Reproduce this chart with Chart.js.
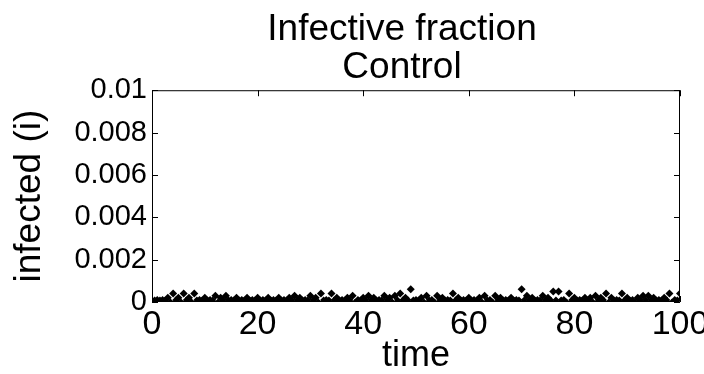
<!DOCTYPE html>
<html>
<head>
<meta charset="utf-8">
<script src="https://cdn.jsdelivr.net/npm/chart.js@4"></script>
<style>
  html, body { margin: 0; padding: 0; background: #fff; }
  #wrap { width: 704px; height: 374px; }
</style>
</head>
<body>
<div id="wrap"><canvas id="infective"></canvas></div>
<script>
// time steps and infected fraction
var times = [1, 2, 3, 4, 5, 6, 7, 8, 9, 10,
  11, 12, 13, 14, 15, 16, 17, 18, 19, 20,
  21, 22, 23, 24, 25, 26, 27, 28, 29, 30,
  31, 32, 33, 34, 35, 36, 37, 38, 39, 40,
  41, 42, 43, 44, 45, 46, 47, 48, 49, 50,
  51, 52, 53, 54, 55, 56, 57, 58, 59, 60,
  61, 62, 63, 64, 65, 66, 67, 68, 69, 70,
  71, 72, 73, 74, 75, 76, 77, 78, 79, 80,
  81, 82, 83, 84, 85, 86, 87, 88, 89, 90,
  91, 92, 93, 94, 95, 96, 97, 98, 99, 100];

var infected = [0.0001, 0.0001, 0.0002, 0.0004, 0.0002, 0.0004, 0.0002, 0.0004, 0.0001, 0.0002,
  0.0001, 0.0003, 0.0002, 0.0003, 0.0001, 0.0002, 0.0001, 0.0002, 0.0001, 0.0002,
  0.0001, 0.0002, 0.0001, 0.0002, 0.0001, 0.0002, 0.0003, 0.0002, 0.0001, 0.0003,
  0.0002, 0.0004, 0.0001, 0.0004, 0.0002, 0.0001, 0.0002, 0.0003, 0.0001, 0.0002,
  0.0003, 0.0002, 0.0001, 0.0003, 0.0002, 0.0003, 0.0004, 0.0002, 0.0006, 0.0001,
  0.0002, 0.0003, 0.0001, 0.0003, 0.0002, 0.0001, 0.0004, 0.0002, 0.0001, 0.0002,
  0.0001, 0.0002, 0.0003, 0.0001, 0.0003, 0.0002, 0.0001, 0.0002, 0.0001, 0.0006,
  0.0003, 0.0002, 0.0001, 0.0003, 0.0002, 0.0005, 0.0005, 0.0001, 0.0004, 0.0002,
  0.0001, 0.0002, 0.0002, 0.0003, 0.0002, 0.0004, 0.0002, 0.0001, 0.0004, 0.0002,
  0.0001, 0.0002, 0.0003, 0.0003, 0.0002, 0.0001, 0.0002, 0.0004, 0.0001, 0.0004];

// second trace sitting on the floor of the plot
var timesLow = [0.5, 1.5, 2.5, 3.5, 4.5, 5.5, 6.5, 7.5, 8.5, 9.5,
  10.5, 11.5, 12.5, 13.5, 14.5, 15.5, 16.5, 17.5, 18.5, 19.5,
  20.5, 21.5, 22.5, 23.5, 24.5, 25.5, 26.5, 27.5, 28.5, 29.5,
  30.5, 31.5, 32.5, 33.5, 34.5, 35.5, 36.5, 37.5, 38.5, 39.5,
  40.5, 41.5, 42.5, 43.5, 44.5, 45.5, 46.5, 47.5, 48.5, 49.5,
  50.5, 51.5, 52.5, 53.5, 54.5, 55.5, 56.5, 57.5, 58.5, 59.5,
  60.5, 61.5, 62.5, 63.5, 64.5, 65.5, 66.5, 67.5, 68.5, 69.5,
  70.5, 71.5, 72.5, 73.5, 74.5, 75.5, 76.5, 77.5, 78.5, 79.5,
  80.5, 81.5, 82.5, 83.5, 84.5, 85.5, 86.5, 87.5, 88.5, 89.5,
  90.5, 91.5, 92.5, 93.5, 94.5, 95.5, 96.5, 97.5, 98.5, 99.5];

var infectedLow = [0.0001, 0.0001, 0.0001, 0.0, 0.0001, 0.0, 0.0001, 0.0, 0.0001, 0.0001,
  0.0001, 0.0001, 0.0, 0.0001, 0.0001, 0.0001, 0.0001, 0.0001, 0.0001, 0.0001,
  0.0001, 0.0001, 0.0001, 0.0001, 0.0001, 0.0001, 0.0001, 0.0001, 0.0001, 0.0001,
  0.0001, 0.0, 0.0001, 0.0001, 0.0001, 0.0001, 0.0001, 0.0001, 0.0, 0.0001,
  0.0001, 0.0001, 0.0001, 0.0001, 0.0001, 0.0, 0.0001, 0.0001, 0.0001, 0.0001,
  0.0001, 0.0, 0.0001, 0.0, 0.0001, 0.0001, 0.0001, 0.0001, 0.0001, 0.0001,
  0.0001, 0.0001, 0.0, 0.0001, 0.0, 0.0001, 0.0001, 0.0001, 0.0001, 0.0001,
  0.0001, 0.0001, 0.0001, 0.0001, 0.0001, 0.0001, 0.0001, 0.0001, 0.0, 0.0001,
  0.0001, 0.0001, 0.0001, 0.0, 0.0001, 0.0001, 0.0, 0.0001, 0.0001, 0.0001,
  0.0001, 0.0, 0.0001, 0.0001, 0.0001, 0.0001, 0.0001, 0.0001, 0.0, 0.0001];

var xTicks = [0, 20, 40, 60, 80, 100];
var yTicks = [0, 0.002, 0.004, 0.006, 0.008, 0.01];
var yTickLabels = ["0", "0.002", "0.004", "0.006", "0.008", "0.01"];

function toPoints(xs, ys) {
  var out = [];
  for (var i = 0; i < xs.length; i++) {
    out.push({ x: xs[i], y: ys[i] });
  }
  return out;
}

// matlab style box with inward ticks
var boxPlugin = {
  id: "box",
  afterLayout: function (chart) {
    // title in the reference sits a little left of the axes centre
    chart.titleBlock.left = 100;
    chart.titleBlock.right = 704;
  },
  afterDraw: function (chart) {
    var ctx = chart.ctx;
    var a = chart.chartArea;
    var xs = chart.scales.x;
    var ys = chart.scales.y;
    var len = 6;
    ctx.save();
    ctx.strokeStyle = "#000";
    ctx.lineWidth = 1;
    ctx.beginPath();
    ctx.rect(a.left + 0.5, a.top + 0.5, a.right - a.left - 1, a.bottom - a.top - 1);
    xTicks.forEach(function (v) {
      var px = Math.round(xs.getPixelForValue(v)) + 0.5;
      ctx.moveTo(px, a.bottom);
      ctx.lineTo(px, a.bottom - len);
      ctx.moveTo(px, a.top);
      ctx.lineTo(px, a.top + len);
    });
    yTicks.forEach(function (v) {
      var py = Math.round(ys.getPixelForValue(v)) + 0.5;
      ctx.moveTo(a.left, py);
      ctx.lineTo(a.left + len, py);
      ctx.moveTo(a.right, py);
      ctx.lineTo(a.right - len, py);
    });
    ctx.stroke();
    ctx.restore();
  },
};

var fontFamily = "'Liberation Sans', Arial, sans-serif";

var config = {
  type: "scatter",
  data: {
    datasets: [
      {
        label: "infected",
        data: toPoints(times, infected),
        pointStyle: "rectRot",
        pointRadius: 4,
        backgroundColor: "#000",
        borderColor: "#000",
        borderWidth: 0,
      },
      {
        label: "infected low",
        data: toPoints(timesLow, infectedLow),
        pointStyle: "rectRot",
        pointRadius: 3.5,
        backgroundColor: "#000",
        borderColor: "#000",
        borderWidth: 0,
      },
    ],
  },
  options: {
    responsive: false,
    animation: false,
    devicePixelRatio: 1,
    layout: { padding: { left: 0, right: 24, top: 0, bottom: 0 } },
    plugins: {
      legend: { display: false },
      tooltip: { enabled: false },
      title: {
        display: true,
        text: ["Infective fraction", "Control"],
        color: "#000",
        font: { family: fontFamily, size: 37, weight: "normal", lineHeight: 1.03 },
        padding: { top: 11, bottom: 3 },
      },
    },
    scales: {
      x: {
        type: "linear",
        min: 0,
        max: 100,
        afterFit: function (scale) {
          scale.height = 72;
          scale.paddingLeft = 0;
          scale.paddingRight = 0;
        },
        afterBuildTicks: function (scale) {
          scale.ticks = xTicks.map(function (v) { return { value: v }; });
        },
        grid: { display: false, drawTicks: false },
        border: { display: false },
        ticks: {
          color: "#000",
          padding: 2,
          autoSkip: false,
          font: { family: fontFamily, size: 34 },
          maxRotation: 0,
        },
        title: {
          display: true,
          text: "time",
          color: "#000",
          font: { family: fontFamily, size: 36 },
          padding: { top: 0, bottom: -4 },
        },
      },
      y: {
        type: "linear",
        min: 0,
        max: 0.01,
        afterFit: function (scale) {
          scale.width = 152;
          scale.paddingTop = 0;
          scale.paddingBottom = 0;
        },
        afterBuildTicks: function (scale) {
          scale.ticks = yTicks.map(function (v) { return { value: v }; });
        },
        grid: { display: false, drawTicks: false },
        border: { display: false },
        ticks: {
          color: "#000",
          padding: 5,
          autoSkip: false,
          font: { family: fontFamily, size: 29 },
          callback: function (value, index) {
            return yTickLabels[index];
          },
        },
        title: {
          display: true,
          text: "infected (i)",
          color: "#000",
          font: { family: fontFamily, size: 37 },
          padding: { top: 8, bottom: 0 },
        },
      },
    },
  },
  plugins: [boxPlugin],
};

var canvas = document.getElementById("infective");
canvas.width = 704;
canvas.height = 374;
canvas.chart = new Chart(canvas.getContext("2d"), config);
</script>
</body>
</html>
